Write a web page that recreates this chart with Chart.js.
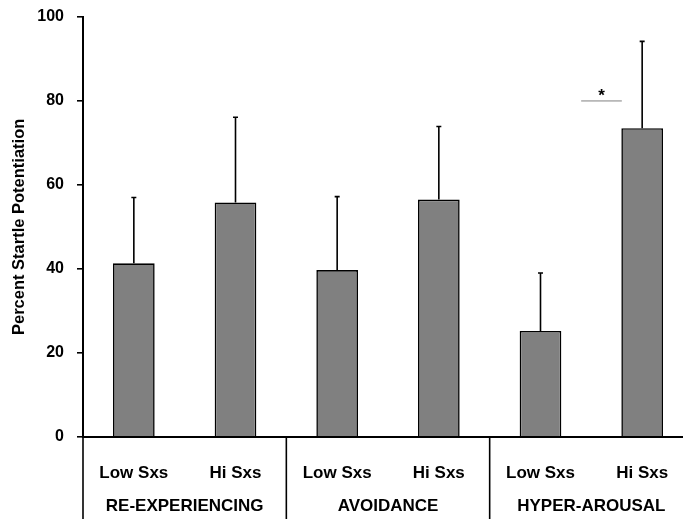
<!DOCTYPE html>
<html>
<head>
<meta charset="utf-8">
<script src="https://cdn.jsdelivr.net/npm/chart.js@4.4.0/dist/chart.umd.min.js"></script>
<style>
  html, body { margin: 0; padding: 0; background: #fff; overflow: hidden; }
  #wrap { width: 700px; height: 519px; }
</style>
</head>
<body>
<div id="wrap"><canvas id="chart"></canvas></div>
<script>
const categories = ["Low Sxs", "Hi Sxs", "Low Sxs", "Hi Sxs", "Low Sxs", "Hi Sxs"];
const groups = ["RE-EXPERIENCING", "AVOIDANCE", "HYPER-AROUSAL"];
const means = [41.3, 55.8, 39.7, 56.5, 25.2, 73.5];
const errors = [15.7, 20.3, 17.5, 17.4, 13.8, 20.7];
const yTicks = [0, 20, 40, 60, 80, 100];
// significance marker between the two hyper-arousal bars (index range + height)
const sigFrom = 4.4, sigTo = 4.8, sigValue = 80;

const FONT = "'Liberation Sans', Arial, sans-serif";

// error bars (upper only), separators, group labels and the star
const extras = {
  id: "extras",
  afterDatasetsDraw(chart) {
    const ctx = chart.ctx;
    const x = chart.scales.x, y = chart.scales.y;
    ctx.save();

    // error bars
    ctx.strokeStyle = "#000";
    ctx.lineWidth = 1.6;
    means.forEach((m, i) => {
      const px = x.getPixelForValue(i);
      const top = y.getPixelForValue(m + errors[i]);
      ctx.beginPath();
      ctx.moveTo(px, y.getPixelForValue(m));
      ctx.lineTo(px, top);
      ctx.moveTo(px - 2.5, top);
      ctx.lineTo(px + 2.5, top);
      ctx.stroke();
    });

    // significance line + star
    const sy = y.getPixelForValue(sigValue);
    ctx.strokeStyle = "#808080";
    ctx.lineWidth = 1;
    ctx.beginPath();
    ctx.moveTo(x.getPixelForValue(sigFrom), sy);
    ctx.lineTo(x.getPixelForValue(sigTo), sy);
    ctx.stroke();
    ctx.fillStyle = "#000";
    ctx.font = "bold 17px " + FONT;
    ctx.textAlign = "center";
    ctx.textBaseline = "middle";
    ctx.fillText("*", x.getPixelForValue((sigFrom + sigTo) / 2), sy - 5);

    // group separators and labels
    const bottom = chart.height;
    ctx.strokeStyle = "#000";
    ctx.lineWidth = 1.6;
    groups.forEach((g, k) => {
      const left = x.getPixelForValue(2 * k - 0.5);
      ctx.beginPath();
      ctx.moveTo(left, y.bottom);
      ctx.lineTo(left, bottom);
      ctx.stroke();
      const cx = (x.getPixelForValue(2 * k) + x.getPixelForValue(2 * k + 1)) / 2;
      ctx.fillText(g, cx, 506);
    });
    ctx.restore();
  }
};

new Chart(document.getElementById("chart"), {
  type: "bar",
  data: {
    labels: categories,
    datasets: [{
      data: means,
      backgroundColor: "#808080",
      borderColor: "#000",
      borderWidth: 1.6,
      borderSkipped: "bottom",
      barPercentage: 0.41,
      categoryPercentage: 1
    }]
  },
  options: {
    responsive: true,
    maintainAspectRatio: false,
    animation: false,
    layout: { padding: { top: 17, right: 7, left: 0, bottom: 0 } },
    plugins: { legend: { display: false }, tooltip: { enabled: false } },
    scales: {
      x: {
        grid: { display: false, drawTicks: false },
        border: { display: true, color: "#000", width: 2 },
        ticks: { color: "#000", font: { family: FONT, size: 17, weight: "bold" }, padding: 26, maxRotation: 0 },
        afterFit(scale) { scale.height = 82.3; }
      },
      y: {
        min: 0,
        max: 100,
        afterBuildTicks(scale) { scale.ticks = yTicks.map(v => ({ value: v })); },
        grid: { display: true, drawOnChartArea: false, drawTicks: true, tickLength: 6, color: "#000", lineWidth: 1.6 },
        border: { display: true, color: "#000", width: 2 },
        ticks: { color: "#000", font: { family: FONT, size: 16, weight: "bold" }, padding: 13 },
        title: {
          display: true,
          text: "Percent Startle Potentiation",
          color: "#000",
          font: { family: FONT, size: 16.5, weight: "bold" },
          padding: { top: 10, bottom: 0 }
        },
        afterFit(scale) {
          scale.width = 83;
          scale.paddingTop = 0;
          scale.paddingBottom = 0;
        }
      }
    }
  },
  plugins: [extras]
});
</script>
</body>
</html>
